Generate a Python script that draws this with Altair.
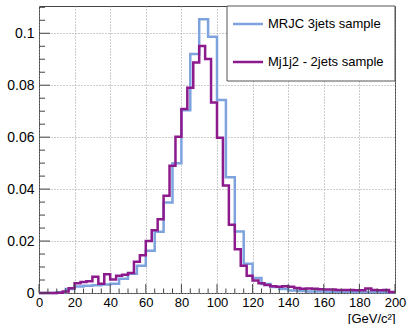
import altair as alt
import pandas as pd

X_MIN, X_MAX = 0, 200
Y_MAX = 0.1105

series_names = ["MRJC 3jets sample", "Mj1j2 - 2jets sample"]
series_colors = ["#7ea2de", "#8c1a8c"]

# MRJC 3jets sample: 40 bins of 5 GeV
mrjc_bin_width = 5.0
mrjc_values = [0.0, 0.0, 0.0003, 0.0015, 0.0025, 0.0028, 0.0030, 0.0033, 0.0036, 0.0055,
               0.0074, 0.0105, 0.0163, 0.0236, 0.0348, 0.0500, 0.0704, 0.0920, 0.1054, 0.0987,
               0.0743, 0.0446, 0.0237, 0.0113, 0.0058, 0.0035, 0.0023, 0.0015, 0.0010, 0.0008,
               0.0006, 0.0006, 0.0005, 0.0005, 0.0005, 0.0004, 0.0004, 0.0004, 0.0004, 0.0003]

# Mj1j2 - 2jets sample: 60 bins of 3.33 GeV
mj_bin_width = 200.0 / 60
mj_values = [0.0, 0.0, 0.0, 0.0001, 0.0006, 0.0018, 0.0038, 0.0042, 0.0045, 0.0063,
             0.0036, 0.0072, 0.0052, 0.0066, 0.0070, 0.0077, 0.0120, 0.0145, 0.0200, 0.0242,
             0.0284, 0.0374, 0.0490, 0.0602, 0.0708, 0.0790, 0.0887, 0.0951, 0.0901, 0.0733,
             0.0598, 0.0414, 0.0263, 0.0168, 0.0105, 0.0066, 0.0048, 0.0038, 0.0031, 0.0026,
             0.0024, 0.0026, 0.0024, 0.0019, 0.0016, 0.0017, 0.0016, 0.0014, 0.0013, 0.0013,
             0.0012, 0.0012, 0.0012, 0.0011, 0.0011, 0.0017, 0.0012, 0.0011, 0.0012, 0.0004]

x_major = [0, 20, 40, 60, 80, 100, 120, 140, 160, 180, 200]
x_minor = [v for v in range(0, 201, 5) if v % 20 != 0]
y_major = [0, 0.02, 0.04, 0.06, 0.08, 0.1]
y_minor = [round(0.005 * i, 3) for i in range(1, 23) if i % 4 != 0]

W, H = 356, 287
LABEL_FONT = "Liberation Sans, Arial, sans-serif"
TEXT_FONT = "Liberation Sans, Arial, sans-serif"


def step_frame(values, width, name):
    lo = [X_MIN + i * width for i in range(len(values))] + [X_MAX]
    vals = list(values) + [values[-1]]
    return pd.DataFrame({"x": lo, "y": vals, "series": name})


xscale = alt.Scale(domain=[X_MIN, X_MAX], nice=False, zero=False)
yscale = alt.Scale(domain=[0, Y_MAX], nice=False, zero=False)

x_axis = alt.Axis(values=x_major, grid=True, gridDash=[1, 2], gridColor="#9a9a9a",
                  gridWidth=1, ticks=False, domain=False, labelFont=LABEL_FONT,
                  labelFontSize=13, labelColor="#000", labelPadding=3, labelFlush=False,
                  title="[GeV/c²]", titleAnchor="end", titleFont=TEXT_FONT,
                  titleFontSize=13, titleFontWeight="normal", titleColor="#000",
                  titlePadding=3, labelOverlap=False)
y_axis = alt.Axis(values=y_major, grid=True, gridDash=[1, 2], gridColor="#9a9a9a",
                  gridWidth=1, ticks=False, domain=False, labelFont=LABEL_FONT,
                  labelFontSize=14, labelColor="#000", labelPadding=5, format="~g",
                  labelFlush=False, title=None, labelOverlap=False)


def X(field="x"):
    return alt.X(f"{field}:Q", scale=xscale, axis=x_axis)


def Y(field="y"):
    return alt.Y(f"{field}:Q", scale=yscale, axis=y_axis)


layers = []
frames = [step_frame(mrjc_values, mrjc_bin_width, series_names[0]),
          step_frame(mj_values, mj_bin_width, series_names[1])]
for i, df in enumerate(frames):
    layers.append(
        alt.Chart(df).mark_line(interpolate="step-after", color=series_colors[i],
                                strokeWidth=2.5, strokeJoin="miter")
        .encode(x=X(), y=Y())
    )

# inward ticks (ROOT style)
tick_color = "#444"
ym = pd.DataFrame({"y": y_major})
yn = pd.DataFrame({"y": y_minor})
xm = pd.DataFrame({"x": x_major})
xn = pd.DataFrame({"x": x_minor})
layers.append(alt.Chart(ym).mark_rule(color=tick_color).encode(
    y=Y(), x=alt.value(0), x2=alt.value(11)))
layers.append(alt.Chart(yn).mark_rule(color=tick_color).encode(
    y=Y(), x=alt.value(0), x2=alt.value(6)))
layers.append(alt.Chart(xm).mark_rule(color=tick_color).encode(
    x=X(), y=alt.value(H), y2=alt.value(H - 9)))
layers.append(alt.Chart(xn).mark_rule(color=tick_color).encode(
    x=X(), y=alt.value(H), y2=alt.value(H - 4.5)))

# legend box
leg = pd.DataFrame({"name": series_names, "color": series_colors})
layers.append(alt.Chart(leg.iloc[:1]).mark_rect(fill="white", stroke="#555", strokeWidth=1).encode(
    x=alt.value(188), x2=alt.value(W), y=alt.value(0), y2=alt.value(75)))
legend_y = [18, 56]
for i in range(len(series_names)):
    sub = leg.iloc[i:i + 1]
    layers.append(alt.Chart(sub).mark_rule(color=series_colors[i], strokeWidth=2.5).encode(
        x=alt.value(194), x2=alt.value(224), y=alt.value(legend_y[i])))
    layers.append(alt.Chart(sub).mark_text(align="left", baseline="middle", font=TEXT_FONT,
                                           fontSize=13, color="#000").encode(
        x=alt.value(229), y=alt.value(legend_y[i]), text="name:N"))

chart = alt.layer(*layers).properties(
    width=W, height=H,
    autosize=alt.AutoSizeParams(type="none"),
    padding={"left": 39, "top": 6, "right": 13, "bottom": 31},
    background="white",
).configure_view(stroke="#444", strokeWidth=1)

chart.save("out.html", embed_options={"renderer": "svg", "actions": False})
